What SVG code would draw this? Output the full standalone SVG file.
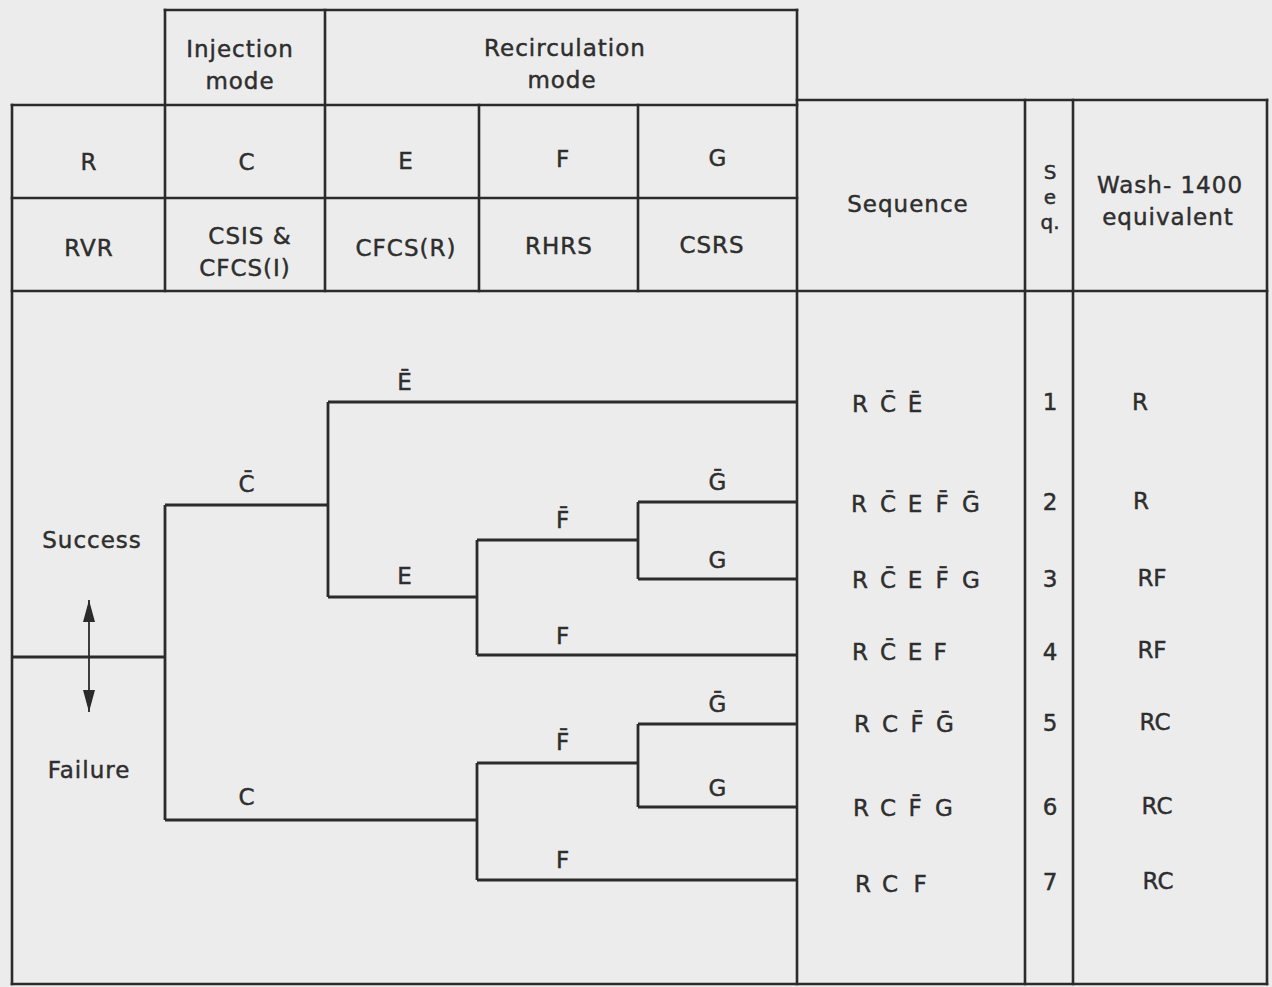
<svg xmlns="http://www.w3.org/2000/svg" width="1272" height="987" viewBox="0 0 1272 987">
<defs>
<style>
.bg{fill:#ececec}
.ln{stroke:#2b2b2b;stroke-width:2.6;fill:none;stroke-linecap:square}
.br{stroke:#2b2b2b;stroke-width:2.8;fill:none;stroke-linejoin:miter}
text{font-family:"DejaVu Sans","Liberation Sans",sans-serif;font-size:23px;fill:#2e2e2e;stroke:#2e2e2e;stroke-width:0.45;text-anchor:middle;letter-spacing:1px}
.sq text{letter-spacing:0}
text.small{font-size:20px;letter-spacing:0}
</style>
<marker id="ah2" viewBox="0 0 22 12" refX="22" refY="6" markerWidth="22" markerHeight="12" markerUnits="userSpaceOnUse" orient="auto-start-reverse">
<path d="M0,0 L22,6 L0,12 Z" fill="#2b2b2b"/>
</marker>
</defs>
<rect class="bg" x="0" y="0" width="1272" height="987"/>

<g id="table">
<path class="ln" d="M165,10 H797 M12,105 H797 M797,100 H1267 M12,198 H797 M12,291 H1267 M12,984 H1267"/>
<path class="ln" d="M12,105 V984 M165,10 V291 M325,10 V291 M479,105 V291 M638,105 V291 M797,10 V984 M1025,100 V984 M1073,100 V984 M1267,100 V984"/>
</g>

<g id="header-labels">
<g id="h-injection"><text x="240" y="57">Injection</text><text x="240" y="89">mode</text></g>
<g id="h-recirc"><text x="565" y="56">Recirculation</text><text x="562" y="88">mode</text></g>
<g id="h-R"><text x="89" y="170">R</text><text x="89" y="256">RVR</text></g>
<g id="h-C"><text x="247" y="170">C</text><text x="250" y="244">CSIS &amp;</text><text x="245" y="276">CFCS(I)</text></g>
<g id="h-E"><text x="406" y="169">E</text><text x="406" y="256">CFCS(R)</text></g>
<g id="h-F"><text x="563" y="167">F</text><text x="559" y="254">RHRS</text></g>
<g id="h-G"><text x="718" y="166">G</text><text x="712" y="253">CSRS</text></g>
<g id="h-seq"><text x="908" y="212">Sequence</text></g>
<g id="h-seqno"><text class="small" x="1050" y="179">S</text><text class="small" x="1050" y="204">e</text><text class="small" x="1050" y="229">q.</text></g>
<g id="h-wash"><text x="1170" y="193">Wash- 1400</text><text x="1168" y="225">equivalent</text></g>
</g>

<g id="connectors">
<path class="br" d="M12,657 H165 M165,505 V820 M165,505 H328 M328,402 V597 M328,402 H797 M328,597 H477 M477,540 V655 M477,540 H638 M638,502 V579 M638,502 H797 M638,579 H797 M477,655 H797"/>
<path class="br" d="M165,820 H477 M477,763 V880 M477,763 H638 M638,724 V807 M638,724 H797 M638,807 H797 M477,880 H797"/>
<line x1="89" y1="600" x2="89" y2="712" stroke="#2b2b2b" stroke-width="1.8" marker-start="url(#ah2)" marker-end="url(#ah2)"/>
</g>

<g id="branch-labels">
<text x="92" y="548">Success</text>
<text x="89" y="778">Failure</text>
<text x="405" y="390">E&#x304;</text>
<text x="247" y="492">C&#x304;</text>
<text x="405" y="584">E</text>
<text x="563" y="528">F&#x304;</text>
<text x="718" y="490">G&#x304;</text>
<text x="718" y="568">G</text>
<text x="563" y="644">F</text>
<text x="247" y="805">C</text>
<text x="563" y="750">F&#x304;</text>
<text x="718" y="712">G&#x304;</text>
<text x="718" y="796">G</text>
<text x="563" y="868">F</text>
</g>

<g id="rows" class="sq">
<g id="row1"><text y="412"><tspan x="860">R</tspan><tspan x="888">C&#x304;</tspan><tspan x="915">E&#x304;</tspan></text><text x="1050" y="410">1</text><text x="1140" y="410">R</text></g>
<g id="row2"><text y="512"><tspan x="859">R</tspan><tspan x="888">C&#x304;</tspan><tspan x="915">E</tspan><tspan x="942">F&#x304;</tspan><tspan x="971">G&#x304;</tspan></text><text x="1050" y="510">2</text><text x="1141" y="509">R</text></g>
<g id="row3"><text y="588"><tspan x="860">R</tspan><tspan x="888">C&#x304;</tspan><tspan x="915">E</tspan><tspan x="942">F&#x304;</tspan><tspan x="971">G</tspan></text><text x="1050" y="587">3</text><text x="1152" y="586">RF</text></g>
<g id="row4"><text y="660"><tspan x="860">R</tspan><tspan x="888">C&#x304;</tspan><tspan x="915">E</tspan><tspan x="940">F</tspan></text><text x="1050" y="660">4</text><text x="1152" y="658">RF</text></g>
<g id="row5"><text y="732"><tspan x="862">R</tspan><tspan x="890">C</tspan><tspan x="917">F&#x304;</tspan><tspan x="945">G&#x304;</tspan></text><text x="1050" y="731">5</text><text x="1155" y="730">RC</text></g>
<g id="row6"><text y="816"><tspan x="861">R</tspan><tspan x="888">C</tspan><tspan x="915">F&#x304;</tspan><tspan x="944">G</tspan></text><text x="1050" y="815">6</text><text x="1157" y="814">RC</text></g>
<g id="row7"><text y="892"><tspan x="863">R</tspan><tspan x="890">C</tspan><tspan x="920">F</tspan></text><text x="1050" y="890">7</text><text x="1158" y="889">RC</text></g>
</g>
</svg>
